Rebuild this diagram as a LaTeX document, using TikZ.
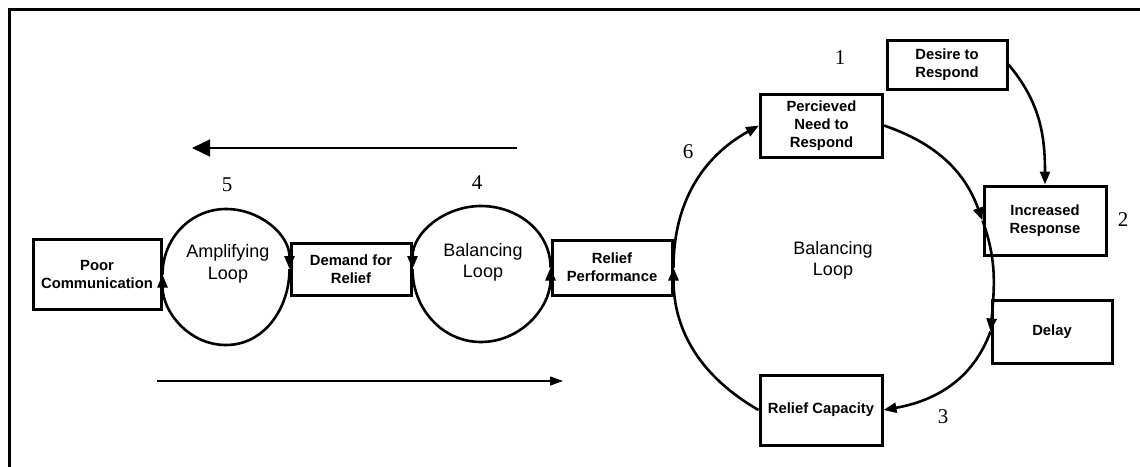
\documentclass[tikz,border=0pt]{standalone}
\usepackage{fontspec}
\setmainfont{Liberation Sans}
\newfontfamily\numfont{Liberation Serif}
\usetikzlibrary{arrows.meta,positioning}

\begin{document}
\begin{tikzpicture}[
  x=1pt, y=1pt,
  block/.style={rectangle, draw, line width=3pt, align=center, inner sep=2pt, font=\bfseries\fontsize{14.8}{18}\selectfont},
  looptext/.style={align=center, font=\fontsize{18}{21.5}\selectfont},
  num/.style={font=\numfont\fontsize{21}{24}\selectfont},
  link/.style={line width=2.6pt, -{Triangle[length=13pt,width=10pt]}},
  trend/.style={line width=1.3pt},
  node distance=254pt
]
\useasboundingbox (0,0) rectangle (1140,-466);
% Frame
\draw[line width=3pt] (1145,-9) -- (9,-9) -- (9,-471);

% Left chain
\node[block, minimum width=128pt, minimum height=70pt] (poor) at (97,-274.5) {Poor\\Communication};
\node[block, right of=poor, yshift=5.5pt, minimum width=120pt, minimum height=52pt] (demand) {Demand for\\Relief};
\node[block, right of=demand, node distance=261pt, yshift=1.5pt, minimum width=120pt, minimum height=55pt] (perform) {Relief\\Performance};

% Right cluster
\node[block, minimum width=122pt, minimum height=63pt] (need) at (821.5,-125.5) {Percieved\\Need to\\Respond};
\node[block, minimum width=120pt, minimum height=49pt] (desire) at (947,-64.5) {Desire to\\Respond};
\node[block, minimum width=122pt, minimum height=69pt] (response) at (1045,-220.5) {Increased\\Response};
\node[block, minimum width=120pt, minimum height=63pt] (delay) at (1052,-331.5) {Delay};
\node[block, minimum width=122pt, minimum height=70pt] (capacity) at (821,-410) {Relief Capacity};

% Loop labels
\node[looptext] (amptxt) at (228,-264) {Amplifying\\Loop};
\node[looptext] (baltxt) at (483,-262.5) {Balancing\\Loop};
\node[looptext] (bigtxt) at (833,-260.5) {Balancing\\Loop};

% Numbers
\node[num] (n1) at (840,-58) {1};
\node[num] (n2) at (1123,-220) {2};
\node[num] (n3) at (943,-417) {3};
\node[num] (n4) at (477,-183) {4};
\node[num] (n5) at (227,-185) {5};
\node[num] (n6) at (688,-152) {6};

% Loop turning points
\coordinate (ampT) at (226,-209);
\coordinate (ampB) at (226,-345);
\coordinate (balT) at (481,-206);
\coordinate (balB) at (481,-342);

% Connections
\draw[link] (poor.east) to[out=90,in=180] (ampT) to[out=0,in=90] (demand.west);
\draw[link] (demand.west) to[out=-90,in=0] (ampB) to[out=180,in=-90] (poor.east);
\draw[link] (perform.west) to[out=90,in=0] (balT) to[out=180,in=90] (demand.east);
\draw[link] (demand.east) to[out=-90,in=180] (balB) to[out=0,in=-90] (perform.west);
\draw[link] (perform.east) to[out=90,in=209] (need.west);
\draw[link] (need.east) to[out=-19,in=110] (response.west);
\draw[link] (response.west) to[out=-70,in=85] (delay.west);
\draw[link] (delay.west) to[out=-110,in=10] (capacity.east);
\draw[link] (capacity.west) to[out=150,in=-90] (perform.east);
\draw[link] (desire.east) to[out=-50,in=90] (response.north);

% Trend arrows
\coordinate (upperR) at (517,-148);
\coordinate (upperL) at (192,-148);
\coordinate (lowerL) at (157,-381);
\coordinate (lowerR) at (563,-381);
\draw[trend, -{Triangle[length=18pt,width=17pt]}] (upperR) -- (upperL);
\draw[trend, -{Triangle[length=13pt,width=9pt]}] (lowerL) -- (lowerR);
\end{tikzpicture}
\end{document}
